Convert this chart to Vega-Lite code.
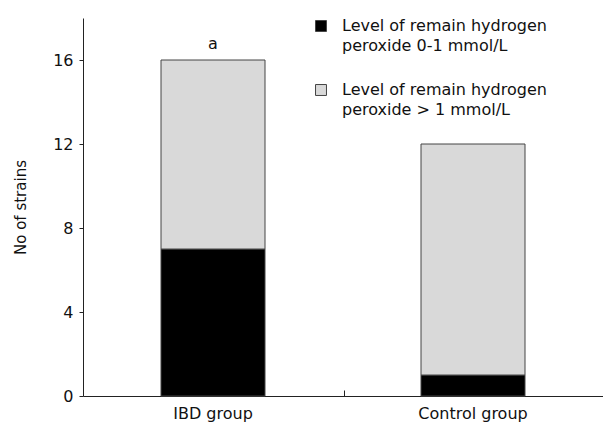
{
  "$schema": "https://vega.github.io/schema/vega-lite/v6.json",
  "width": 520,
  "height": 378,
  "autosize": "none",
  "padding": {"left": 83, "top": 18, "right": 0, "bottom": 27},
  "config": {
    "font": "DejaVu Sans",
    "view": {"stroke": null},
    "style": {"guide-label": {"lineHeight": 20, "dy": -8}},
    "axis": {"domainColor": "#222", "tickColor": "#222", "labelColor": "#111", "titleColor": "#111", "labelFont": "DejaVu Sans", "titleFont": "DejaVu Sans", "labelFontSize": 16, "titleFontSize": 15, "titleFontWeight": "normal", "grid": false}
  },
  "resolve": {"axis": {"x": "independent"}},
  "data": {
    "values": [
      {"group": "IBD group", "level": "Level of remain hydrogen peroxide 0-1 mmol/L", "n": 7, "ord": 1},
      {"group": "IBD group", "level": "Level of remain hydrogen peroxide > 1 mmol/L", "n": 9, "ord": 2},
      {"group": "Control group", "level": "Level of remain hydrogen peroxide 0-1 mmol/L", "n": 1, "ord": 1},
      {"group": "Control group", "level": "Level of remain hydrogen peroxide > 1 mmol/L", "n": 11, "ord": 2}
    ]
  },
  "layer": [
    {
      "mark": {"type": "bar", "stroke": "#444", "strokeWidth": 1},
      "encoding": {
        "x": {
          "field": "group", "type": "nominal", "sort": ["IBD group", "Control group"],
          "scale": {"paddingInner": 0.6, "paddingOuter": 0.3},
          "axis": {"title": null, "orient": "bottom", "labelAngle": 0, "ticks": false, "labelPadding": 17}
        },
        "y": {
          "field": "n", "type": "quantitative", "stack": "zero",
          "scale": {"domain": [0, 18], "nice": false},
          "axis": {"values": [0, 4, 8, 12, 16], "title": "No of strains", "tickSize": 4, "labelPadding": 6, "labelOffset": 8, "titlePadding": 24}
        },
        "color": {
          "field": "level", "type": "nominal",
          "scale": {"range": ["#000000", "#d9d9d9"]},
          "legend": {
            "title": null, "orient": "none", "legendX": 230, "legendY": 0,
            "symbolType": "square", "symbolSize": 120, "symbolStrokeColor": "#444", "symbolStrokeWidth": 1, "symbolOpacity": 1,
            "labelExpr": "[substring(datum.label, 0, 24), substring(datum.label, 25)]",
            "labelFontSize": 16, "labelLimit": 400, "labelColor": "#111", "labelBaseline": "top", "labelOffset": 13,
            "rowPadding": 28
          }
        },
        "order": {"field": "ord", "type": "quantitative"}
      }
    },
    {
      "data": {"values": [{"group": "IBD group", "total": 16, "label": "a"}]},
      "mark": {"type": "text", "baseline": "bottom", "dy": -8, "fontSize": 16, "color": "#111"},
      "encoding": {
        "x": {
          "field": "group", "type": "nominal", "sort": ["IBD group", "Control group"],
          "axis": {"title": null, "orient": "bottom", "domain": false, "labels": false, "ticks": true, "tickSize": 6, "tickOffset": 131, "offset": -6}
        },
        "y": {"field": "total", "type": "quantitative"},
        "text": {"field": "label"}
      }
    }
  ]
}
